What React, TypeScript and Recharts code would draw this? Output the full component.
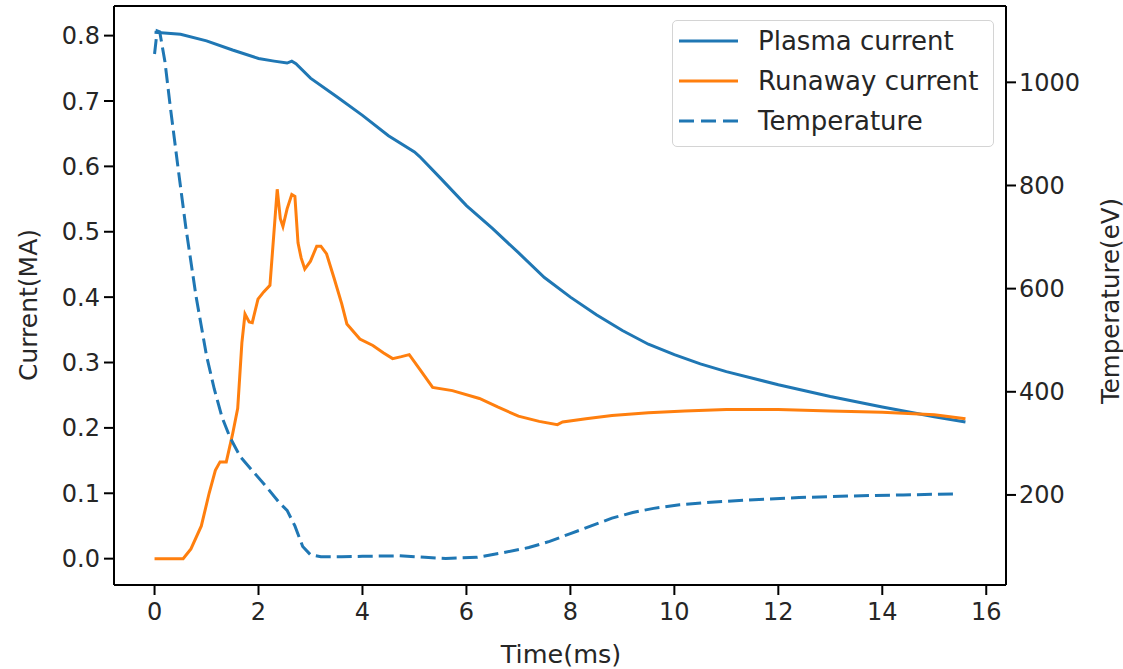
import { Legend, Line, LineChart, ReferenceLine, XAxis, YAxis } from "recharts";

const FONT = "DejaVu Sans, Verdana, sans-serif";
const TEXT = "#262626";
const BLUE = "#1f77b4";
const ORANGE = "#ff7f0e";

// time axis (ms) for each series
const plasmaTime = [
  0, 0.5, 1, 1.5, 2, 2.3, 2.55, 2.64, 2.72, 3.0, 3.5, 4, 4.5, 5, 5.1, 5.5, 6,
  6.5, 7, 7.5, 8, 8.5, 9, 9.5, 10, 10.5, 11, 12, 13, 14, 15, 15.6,
];
const plasmaCurrent = [
  0.805, 0.802, 0.792, 0.778, 0.765, 0.761, 0.758, 0.761, 0.757, 0.735, 0.707,
  0.678, 0.647, 0.622, 0.615, 0.582, 0.54, 0.505, 0.468, 0.43, 0.4, 0.373,
  0.349, 0.328, 0.312, 0.298, 0.286, 0.266, 0.248, 0.232, 0.217, 0.209,
];

const runawayTime = [
  0, 0.55, 0.7, 0.9, 1.05, 1.17, 1.26, 1.38, 1.5, 1.6, 1.68, 1.74, 1.82, 1.88,
  1.99, 2.1, 2.22, 2.36, 2.42, 2.47, 2.55, 2.64, 2.7, 2.76, 2.82, 2.89, 3.0,
  3.12, 3.2, 3.31, 3.45, 3.6, 3.7, 3.95, 4.2, 4.4, 4.58, 4.75, 4.9, 5.1, 5.35,
  5.73, 6.25, 6.6, 7.0, 7.4, 7.75, 7.85, 8.3, 8.8, 9.5, 10.2, 11.0, 12.0, 13.0,
  14.0, 15.0, 15.6,
];
const runawayCurrent = [
  0, 0, 0.015, 0.05, 0.1, 0.135, 0.148, 0.148, 0.19, 0.23, 0.33, 0.374, 0.362,
  0.361, 0.397, 0.408, 0.418, 0.565, 0.52, 0.508, 0.535, 0.557, 0.554, 0.483,
  0.46, 0.443, 0.455, 0.478, 0.478, 0.466, 0.43, 0.39, 0.359, 0.336, 0.326,
  0.315, 0.306, 0.309, 0.312, 0.29, 0.262, 0.257, 0.245, 0.232, 0.218, 0.21,
  0.205, 0.209, 0.214, 0.219, 0.223, 0.226, 0.228, 0.228, 0.226, 0.224, 0.22,
  0.214,
];

const tempTime = [
  0, 0.05, 0.1, 0.2, 0.3, 0.45, 0.6, 0.8, 1.0, 1.15, 1.3, 1.45, 1.65, 1.9, 2.15,
  2.4, 2.55, 2.7, 2.85, 3.0, 3.2, 3.6, 4.0, 4.7, 5.2, 5.6, 6.2, 6.7, 7.2, 7.6,
  8.0, 8.4, 8.8, 9.2, 9.6, 10.1, 10.7, 11.4, 12.4, 13.4, 14.4, 15.4,
];
const temperature = [
  1055, 1100, 1098, 1040, 955, 836, 720, 584, 470, 405, 350, 312, 274, 245, 216,
  185, 170, 140, 100, 84, 80, 80, 81, 82, 79, 77, 79, 88, 98, 110, 125, 140,
  155, 166, 174, 181, 186, 190, 195, 198, 200, 202,
];

const timeTicks = [0, 2, 4, 6, 8, 10, 12, 14, 16];
const currentTicks = [0, 0.1, 0.2, 0.3, 0.4, 0.5, 0.6, 0.7, 0.8];
const tempTicks = [200, 400, 600, 800, 1000];

const toPoints = (ts: number[], vs: number[]) =>
  ts.map((t, i) => ({ t, v: vs[i] }));

const series = [
  { name: "Plasma current", color: BLUE, dash: undefined, axis: "left", data: toPoints(plasmaTime, plasmaCurrent) },
  { name: "Runaway current", color: ORANGE, dash: undefined, axis: "left", data: toPoints(runawayTime, runawayCurrent) },
  { name: "Temperature", color: BLUE, dash: "15 6", axis: "right", data: toPoints(tempTime, temperature) },
];

const tickStyle = { fontFamily: FONT, fontSize: 24, fill: TEXT };

const LegendBox = () => (
  <div
    style={{
      width: 320,
      height: 125,
      border: "1px solid #d4d4d4",
      borderRadius: 5,
      background: "rgba(255,255,255,0.85)",
      fontFamily: FONT,
      fontSize: 26,
      color: TEXT,
    }}
  >
    {series.map((s) => (
      <div
        key={s.name}
        style={{ height: 40, display: "flex", alignItems: "center" }}
      >
        <svg width={79} height={10} style={{ marginLeft: 6 }}>
          <line
            x1={0}
            x2={59}
            y1={5}
            y2={5}
            stroke={s.color}
            strokeWidth={3}
            strokeDasharray={s.dash ? "15 7" : undefined}
          />
        </svg>
        <span style={{ whiteSpace: "nowrap" }}>{s.name}</span>
      </div>
    ))}
  </div>
);

export default function App() {
  return (
    <div style={{ position: "absolute", left: 0, top: 0, background: "#fff" }}>
      <LineChart
        width={1123}
        height={669}
        margin={{ top: 6, right: 0, bottom: 0, left: 0 }}
      >
        <XAxis
          dataKey="t"
          type="number"
          domain={[-0.78, 16.38]}
          ticks={timeTicks}
          allowDataOverflow
          height={84}
          tick={tickStyle}
          tickSize={10}
          tickMargin={8}
          stroke="#000"
          strokeWidth={2}
          label={{
            content: () => (
              <text
                x={561}
                y={654}
                textAnchor="middle"
                dominantBaseline="central"
                fontFamily={FONT}
                fontSize={25.5}
                fill={TEXT}
              >
                Time(ms)
              </text>
            ),
          }}
        />
        <YAxis
          yAxisId="left"
          type="number"
          domain={[-0.0403, 0.8453]}
          ticks={currentTicks}
          allowDataOverflow
          width={114}
          tick={tickStyle}
          tickFormatter={(v: number) => v.toFixed(1)}
          tickSize={10}
          tickMargin={4}
          stroke="#000"
          strokeWidth={2}
          label={{
            content: () => (
              <text
                x={28}
                y={305}
                textAnchor="middle"
                dominantBaseline="central"
                transform="rotate(-90 28 305)"
                fontFamily={FONT}
                fontSize={25}
                fill={TEXT}
              >
                Current(MA)
              </text>
            ),
          }}
        />
        <YAxis
          yAxisId="right"
          orientation="right"
          type="number"
          domain={[25.4, 1148]}
          ticks={tempTicks}
          allowDataOverflow
          width={117}
          tick={tickStyle}
          tickSize={10}
          tickMargin={3}
          stroke="#000"
          strokeWidth={2}
          label={{
            content: () => (
              <text
                x={1110}
                y={301}
                textAnchor="middle"
                dominantBaseline="central"
                transform="rotate(-90 1110 301)"
                fontFamily={FONT}
                fontSize={24.5}
                fill={TEXT}
              >
                Temperature(eV)
              </text>
            ),
          }}
        />
        <ReferenceLine
          yAxisId="left"
          y={0.8453}
          stroke="#000"
          strokeWidth={2}
          ifOverflow="visible"
        />
        {series.map((s) => (
          <Line
            key={s.name}
            data={s.data}
            dataKey="v"
            name={s.name}
            yAxisId={s.axis}
            type="linear"
            stroke={s.color}
            strokeWidth={3}
            strokeDasharray={s.dash}
            dot={false}
            activeDot={false}
            isAnimationActive={false}
          />
        ))}
        <Legend
          layout="horizontal"
          verticalAlign="middle"
          align="center"
          content={() => <LegendBox />}
          wrapperStyle={{ left: 672, top: 20, width: 322, height: 127 }}
        />
      </LineChart>
    </div>
  );
}
